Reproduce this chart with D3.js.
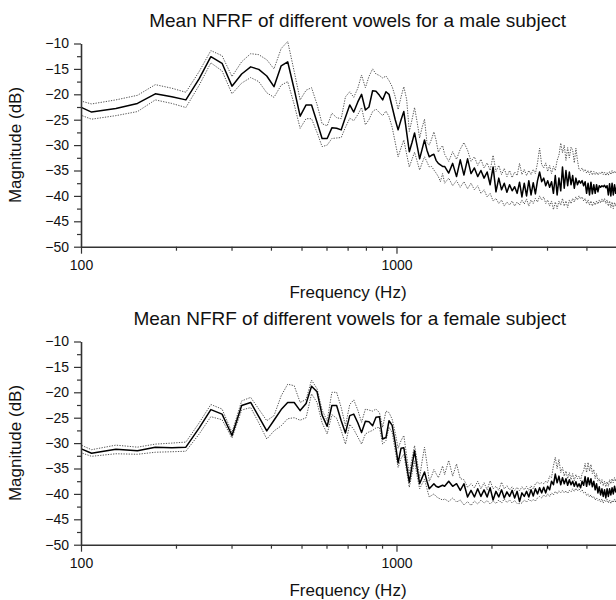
<!DOCTYPE html>
<html>
<head>
<meta charset="utf-8">
<script src="https://cdn.jsdelivr.net/npm/d3@7"></script>
<style>
body { margin: 0; background: #fff; }
svg { display: block; font-family: "Liberation Sans", Arial, sans-serif; }
</style>
</head>
<body>
<svg width="616" height="600"></svg>
<script>
// FFT bin frequencies (Hz): every bin up to 1.4 kHz, every other bin above
var freqHz = [
	86, 108, 129, 151, 172, 194, 215, 237, 258, 280,
	301, 323, 345, 366, 388, 409, 431, 452, 474, 495,
	517, 538, 560, 581, 603, 624, 646, 668, 689, 711,
	732, 754, 775, 797, 818, 840, 861, 883, 904, 926,
	947, 969, 991, 1012, 1034, 1055, 1077, 1098, 1120, 1141,
	1163, 1184, 1206, 1227, 1249, 1270, 1292, 1314, 1335, 1357,
	1378, 1400,
	1421, 1464, 1507, 1550, 1593, 1636, 1680, 1723, 1766, 1809,
	1852, 1895, 1938, 1981, 2024, 2067, 2110, 2153, 2196, 2239,
	2283, 2326, 2369, 2412, 2455, 2498, 2541, 2584, 2627, 2670,
	2713, 2756, 2799, 2842, 2885, 2929, 2972, 3015, 3058, 3101,
	3144, 3187, 3230, 3273, 3316, 3359, 3402, 3445, 3488, 3531,
	3575, 3618, 3661, 3704, 3747, 3790, 3833, 3876, 3919, 3962,
	4005, 4048, 4091, 4134, 4177, 4221, 4264, 4307, 4350, 4393,
	4436, 4479, 4522, 4565, 4608, 4651, 4694, 4737, 4780, 4823,
	4867, 4910, 4953, 4996, 5039
];

var maleMean = [
	-20.7, -23.5, -22.8, -21.8, -19.9, -20.5, -21.1, -16.9, -12.6, -13.9,
	-18.4, -16.0, -14.6, -15.1, -16.4, -18.5, -14.4, -13.6, -19.0, -24.3,
	-22.1, -22.1, -25.5, -28.7, -28.7, -26.6, -26.7, -27.0, -24.5, -22.1,
	-23.5, -21.5, -20.0, -23.1, -22.5, -19.3, -19.4, -20.2, -21.1, -19.5,
	-20.0, -22.5, -25.0, -27.0, -25.0, -23.4, -27.5, -31.3, -29.5, -27.6,
	-30.2, -32.7, -30.8, -29.0, -31.0, -32.3, -32.0, -31.8, -33.0, -33.6,
	-33.9, -34.2,
	-34.2, -35.5, -33.6, -36.2, -32.9, -35.9, -32.7, -35.6, -34.5, -36.2,
	-35.0, -36.5, -35.3, -37.8, -34.3, -39.2, -36.5, -38.8, -37.5, -39.3,
	-37.8, -39.0, -38.2, -39.5, -37.3, -40.2, -37.5, -40.0, -37.0, -39.8,
	-37.4, -39.6, -37.0, -35.3, -37.2, -36.5, -38.0, -37.0, -38.3, -37.2,
	-39.5, -36.0, -39.8, -36.5, -39.0, -34.3, -38.5, -35.0, -38.0, -35.3,
	-37.8, -36.0, -38.5, -36.5, -37.8, -37.0, -37.5, -37.0, -38.0, -37.2,
	-39.5, -37.5, -39.8, -37.3, -39.6, -37.8, -39.5, -37.8, -39.2, -38.0,
	-38.3, -38.0, -38.2, -37.9, -38.4, -38.0, -39.8, -37.6, -40.0, -37.5,
	-39.8, -37.8, -39.5, -38.0, -38.5
];

var maleUpper = [
	-20.2, -21.9, -21.1, -20.2, -18.1, -18.8, -19.6, -15.5, -11.4, -12.4,
	-16.5, -13.6, -12.0, -12.2, -13.2, -15.0, -11.0, -9.6, -15.5, -21.1,
	-19.2, -18.7, -22.0, -25.8, -26.2, -23.7, -24.6, -24.8, -20.5, -19.5,
	-20.6, -18.8, -16.2, -18.7, -16.5, -15.0, -16.0, -16.3, -16.8, -16.4,
	-17.3, -18.5, -20.5, -23.0, -20.5, -18.5, -21.0, -27.3, -25.0, -22.6,
	-25.5, -28.6, -26.5, -24.9, -29.5, -30.0, -28.8, -27.4, -29.0, -31.4,
	-30.6, -30.1,
	-31.8, -33.2, -31.3, -32.8, -30.8, -29.5, -31.0, -33.2, -32.3, -34.0,
	-32.8, -34.5, -33.5, -35.0, -32.0, -35.2, -34.0, -35.8, -34.6, -36.2,
	-35.0, -36.4, -35.3, -36.0, -33.6, -35.8, -34.8, -36.0, -35.0, -35.8,
	-34.8, -35.6, -33.5, -30.6, -33.8, -34.5, -33.5, -35.2, -34.0, -35.6,
	-34.2, -35.0, -33.0, -32.0, -29.6, -31.5, -30.0, -33.0, -30.5, -32.5,
	-30.4, -31.0, -33.5, -30.6, -33.0, -34.8, -35.0, -34.5, -35.2, -34.8,
	-35.5, -35.0, -35.8, -35.0, -35.9, -35.2, -35.8, -35.3, -35.9, -35.4,
	-35.7, -35.2, -35.8, -35.3, -36.0, -35.4, -35.9, -35.2, -35.8, -35.0,
	-35.6, -35.1, -35.5, -35.0, -35.4
];

var maleLower = [
	-22.6, -24.9, -24.2, -23.4, -21.1, -21.8, -22.6, -18.2, -13.8, -15.4,
	-19.9, -17.8, -16.7, -17.5, -19.7, -20.6, -18.2, -17.5, -22.0, -26.7,
	-24.8, -24.8, -27.5, -30.3, -30.0, -28.7, -28.6, -28.5, -26.5, -24.7,
	-25.2, -24.0, -22.6, -26.0, -25.0, -23.4, -22.9, -23.6, -24.2, -23.3,
	-24.4, -26.5, -29.5, -32.3, -30.5, -29.0, -31.8, -34.3, -32.8, -31.4,
	-33.2, -34.9, -33.5, -32.3, -33.3, -34.3, -34.2, -34.9, -35.5, -36.2,
	-37.2, -35.6,
	-37.5, -36.5, -38.0, -37.0, -38.3, -37.2, -38.6, -37.5, -38.8, -38.0,
	-39.5, -38.8, -40.2, -39.5, -41.0, -40.5, -41.5, -40.8, -42.0, -41.2,
	-41.8, -41.0, -42.0, -41.2, -41.8, -40.8, -41.6, -40.6, -42.0, -40.8,
	-41.5, -40.5, -41.2, -40.0, -40.8, -40.2, -41.5, -40.8, -42.0, -41.0,
	-42.7, -41.2, -42.5, -41.0, -41.8, -40.5, -42.0, -41.0, -42.3, -40.8,
	-41.5, -40.5, -41.2, -40.2, -40.8, -40.0, -40.6, -40.2, -41.0, -40.5,
	-41.5, -40.8, -41.8, -41.0, -42.0, -41.2, -41.8, -41.0, -41.6, -40.8,
	-41.4, -40.6, -41.2, -40.5, -41.5, -40.8, -42.0, -41.0, -42.3, -41.2,
	-42.5, -41.3, -42.0, -41.0, -41.5
];

var femaleMean = [
	-29.4, -32.0, -31.2, -31.5, -30.8, -30.9, -30.8, -27.0, -23.4, -24.3,
	-28.5, -22.6, -22.0, -24.8, -27.6, -25.5, -23.4, -22.0, -22.0, -23.6,
	-22.2, -18.8, -19.9, -24.5, -26.7, -22.6, -22.6, -25.6, -28.0, -24.6,
	-24.3, -26.0, -27.9, -25.7, -25.8, -26.6, -24.9, -24.8, -29.2, -28.9,
	-25.6, -26.5, -30.0, -33.9, -31.0, -30.9, -34.5, -37.7, -34.5, -31.5,
	-35.0, -38.0, -36.8, -35.7, -37.5, -39.0, -38.5, -38.0, -38.5, -38.7,
	-38.5, -38.3,
	-38.5, -37.5, -38.5, -38.0, -39.3, -38.0, -40.6, -39.3, -40.6, -39.0,
	-40.5, -39.2, -40.6, -38.8, -41.2, -39.5, -40.6, -39.2, -40.8, -39.6,
	-40.5, -39.3, -40.8, -39.5, -41.5, -39.8, -40.5, -39.5, -40.6, -39.2,
	-40.4, -39.0, -40.0, -38.8, -39.8, -38.7, -39.8, -38.5, -39.2, -37.5,
	-38.2, -36.1, -37.8, -36.5, -38.2, -36.8, -38.0, -37.0, -38.3, -37.2,
	-38.2, -37.5, -38.5, -37.6, -38.6, -38.0, -38.8, -37.5, -38.3, -36.6,
	-38.5, -36.8, -38.2, -37.0, -38.6, -37.5, -39.2, -38.0, -39.8, -38.6,
	-40.2, -39.0, -40.5, -39.2, -40.8, -39.0, -40.5, -39.0, -40.2, -38.8,
	-40.0, -38.5, -39.6, -38.8, -39.2
];

var femaleUpper = [
	-28.6, -31.3, -30.4, -30.8, -30.2, -30.0, -29.8, -26.0, -22.4, -23.3,
	-27.9, -21.7, -21.0, -23.3, -25.6, -24.6, -20.7, -18.4, -18.7, -22.0,
	-21.4, -17.6, -19.3, -23.5, -25.6, -20.0, -20.0, -23.0, -26.6, -22.4,
	-21.5, -23.5, -25.9, -23.3, -23.5, -23.7, -23.3, -24.0, -26.9, -23.7,
	-24.0, -25.3, -28.0, -31.0, -29.5, -28.5, -32.5, -36.1, -33.0, -30.5,
	-33.5, -36.8, -33.5, -30.8, -34.0, -37.5, -36.5, -35.2, -36.0, -36.8,
	-35.8, -34.5,
	-36.2, -33.4, -36.5, -34.1, -37.0, -37.2, -38.7, -38.0, -38.8, -37.5,
	-39.0, -37.8, -39.2, -37.4, -39.0, -38.5, -39.3, -37.7, -39.0, -38.4,
	-39.2, -38.6, -39.3, -38.7, -39.4, -38.6, -39.2, -38.5, -39.3, -38.4,
	-39.0, -38.0, -37.7, -38.0, -37.8, -38.0, -37.5, -37.8, -36.5, -36.8,
	-34.5, -32.8, -35.0, -33.2, -35.8, -34.8, -36.5, -35.5, -37.0, -35.8,
	-37.2, -36.0, -37.4, -36.2, -37.0, -36.5, -37.4, -36.0, -35.5, -34.0,
	-35.8, -33.8, -35.5, -34.2, -36.0, -35.2, -37.0, -36.0, -37.5, -37.0,
	-38.0, -37.2, -38.4, -37.5, -38.6, -37.6, -38.5, -37.2, -38.0, -37.0,
	-37.8, -36.8, -37.5, -36.5, -37.0
];

var femaleLower = [
	-30.5, -32.6, -32.1, -32.2, -31.8, -31.7, -31.6, -28.2, -24.8, -25.4,
	-29.0, -23.5, -23.0, -26.0, -29.2, -27.6, -26.6, -25.2, -25.0, -25.5,
	-25.0, -20.3, -22.0, -26.0, -28.2, -24.4, -25.1, -27.5, -30.2, -26.3,
	-27.3, -28.8, -30.2, -28.2, -27.8, -27.5, -27.0, -26.9, -30.2, -29.5,
	-26.9, -27.9, -31.5, -34.8, -33.0, -32.2, -35.5, -38.7, -36.0, -33.5,
	-36.5, -39.0, -38.0, -37.1, -39.0, -40.6, -40.3, -40.0, -40.5, -40.8,
	-41.0, -41.2,
	-41.0, -41.5, -40.8, -41.6, -41.2, -42.2, -41.5, -42.3, -41.4, -42.0,
	-41.2, -41.8, -41.3, -42.0, -41.4, -41.9, -41.2, -41.8, -41.0, -41.7,
	-41.2, -41.8, -41.3, -41.9, -41.9, -41.8, -41.2, -41.6, -41.0, -41.5,
	-41.1, -41.4, -40.8, -40.5, -40.8, -40.2, -40.6, -40.0, -40.5, -39.8,
	-40.2, -39.5, -40.0, -39.4, -39.8, -39.3, -39.8, -39.4, -39.9, -39.3,
	-39.6, -39.0, -39.5, -38.9, -39.4, -39.0, -39.5, -39.2, -39.8, -39.6,
	-40.3, -40.0, -40.6, -40.2, -40.8, -40.5, -41.2, -40.8, -41.3, -41.0,
	-41.6, -41.0, -41.8, -41.2, -41.5, -41.0, -41.8, -41.2, -41.9, -41.3,
	-41.7, -41.0, -41.6, -41.0, -41.4
];

var titles = [
	"Mean NFRF of different vowels for a male subject",
	"Mean NFRF of different vowels for a female subject"
];
var yMajor = [-50, -45, -40, -35, -30, -25, -20, -15, -10];
var yMinor = [-47.5, -42.5, -37.5, -32.5, -27.5, -22.5, -17.5, -12.5];
var xMajor = [100, 1000];
var xMinor = [200, 300, 400, 500, 600, 700, 800, 900, 2000, 3000, 4000, 5000];

(function () {
	var svg = d3.select("svg");

	var x = d3.scaleLog()
		.domain([100, 5000])
		.range([81, 617]);

	var y = d3.scaleLinear()
		.domain([-50, -10])
		.range([246.7, 43.5]);

	function rows(values) {
		return freqHz.map(function (f, i) {
			return { f: f, v: values[i] };
		}).filter(function (d) { return d.v !== undefined; });
	}

	var line = d3.line()
		.x(function (d) { return x(d.f); })
		.y(function (d) { return y(d.v); });

	function styleAxis(a) {
		a.select(".domain").attr("stroke", "#333").attr("stroke-width", 1.6);
		a.selectAll(".tick line").attr("stroke", "#333").attr("stroke-width", 1.2);
		a.selectAll(".tick text").attr("fill", "#111").style("font-size", "14px");
	}

	function panel(idx, top, mean, upper, lower) {
		var g = svg.append("g").attr("transform", "translate(0," + top + ")");

		g.append("clipPath").attr("id", "clip" + idx)
			.append("rect")
			.attr("x", 81).attr("y", 0)
			.attr("width", 540).attr("height", 250);

		var plot = g.append("g").attr("clip-path", "url(#clip" + idx + ")");

		[upper, lower].forEach(function (s) {
			plot.append("path")
				.datum(rows(s))
				.attr("fill", "none")
				.attr("stroke", "#555")
				.attr("stroke-width", 1)
				.attr("stroke-dasharray", "1.3,1.3")
				.attr("d", line);
		});

		plot.append("path")
			.datum(rows(mean))
			.attr("fill", "none")
			.attr("stroke", "#000")
			.attr("stroke-width", 1.5)
			.attr("stroke-linejoin", "round")
			.attr("d", line);

		// y axis, major + minor ticks
		var ya = g.append("g")
			.attr("transform", "translate(81,0)")
			.call(d3.axisLeft(y).tickValues(yMajor).tickSize(7).tickSizeOuter(0).tickPadding(5));
		styleAxis(ya);

		var ym = g.append("g")
			.attr("transform", "translate(81,0)")
			.call(d3.axisLeft(y).tickValues(yMinor).tickSize(4).tickSizeOuter(0).tickFormat(""));
		ym.select(".domain").remove();
		styleAxis(ym);

		// x axis
		var xa = g.append("g")
			.attr("transform", "translate(0," + y(-50) + ")")
			.call(d3.axisBottom(x).tickValues(xMajor).tickFormat(d3.format("d")).tickSize(7).tickSizeOuter(0));
		styleAxis(xa);
		xa.selectAll(".tick text").attr("y", 23.5).attr("dy", 0);

		var xm = g.append("g")
			.attr("transform", "translate(0," + y(-50) + ")")
			.call(d3.axisBottom(x).tickValues(xMinor).tickSize(4).tickSizeOuter(0).tickFormat(""));
		xm.select(".domain").remove();
		styleAxis(xm);

		g.append("text")
			.attr("x", 566)
			.attr("y", 26.5)
			.attr("text-anchor", "end")
			.style("font-size", "19px")
			.attr("fill", "#111")
			.text(titles[idx]);

		g.append("text")
			.attr("x", 348)
			.attr("y", 298)
			.attr("text-anchor", "middle")
			.style("font-size", "17px")
			.attr("fill", "#111")
			.text("Frequency (Hz)");

		g.append("text")
			.attr("transform", "translate(21,145) rotate(-90)")
			.attr("text-anchor", "middle")
			.style("font-size", "17px")
			.attr("fill", "#111")
			.text("Magnitude (dB)");
	}

	panel(0, 0, maleMean, maleUpper, maleLower);
	panel(1, 298, femaleMean, femaleUpper, femaleLower);
}) ();
</script>
</body>
</html>
